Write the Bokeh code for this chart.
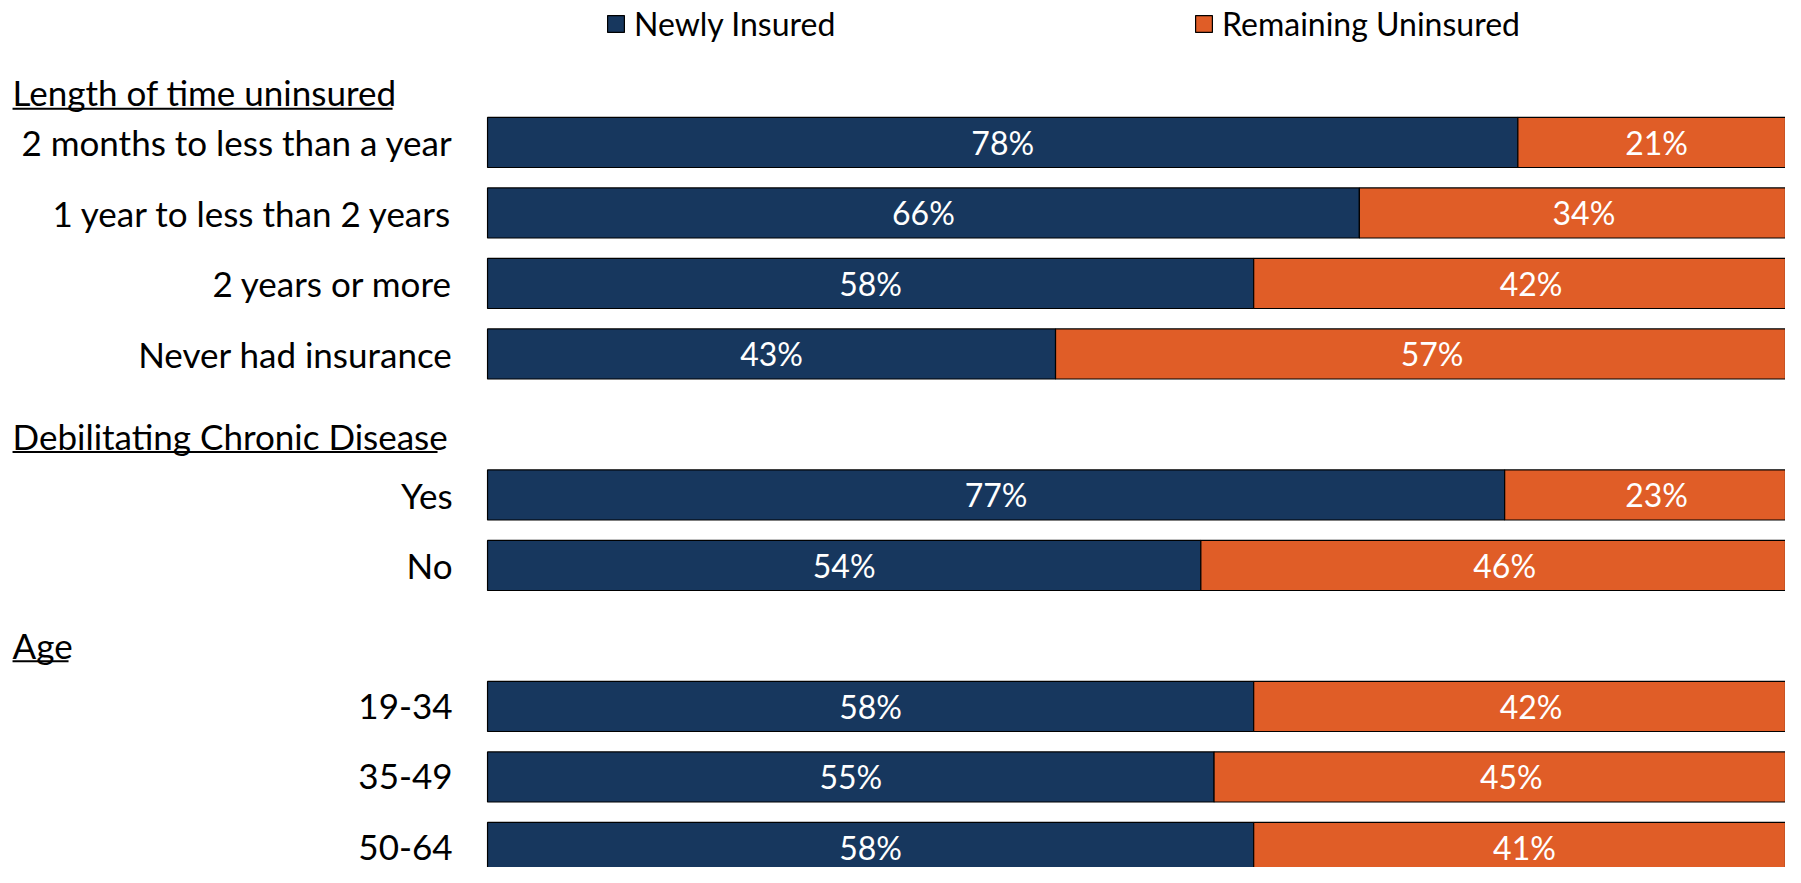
from bokeh.plotting import figure
from bokeh.models import Range1d, ColumnDataSource, Legend, LegendItem
from bokeh.core.properties import value
from bokeh.embed import file_html
from bokeh.resources import INLINE

# ---- data ----
categories = ["2 months to less than a year", "1 year to less than 2 years",
              "2 years or more", "Never had insurance",
              "Yes", "No",
              "19-34", "35-49", "50-64"]
row_pos = [0, 1, 2, 3, 5, 6, 8, 9, 10]
newly_insured = [78, 66, 58, 43, 77, 54, 58, 55, 58]
remaining_uninsured = [21, 34, 42, 57, 23, 46, 42, 45, 41]
headers = ["Length of time uninsured", "Debilitating Chronic Disease", "Age"]
header_pos = [-0.71, 4.16, 7.13]
series_names = ["Newly Insured", "Remaining Uninsured"]

NAVY = "#17375E"
ORANGE = "#E05D27"
FONT = "Lato"

W, H = 1785, 867
X0, X1 = -36.87, 98.26
p = figure(width=W, height=H, output_backend="svg", toolbar_location=None,
           x_range=Range1d(X0, X1), y_range=Range1d(10.284, -2.014),
           min_border=0, outline_line_color=None)
p.axis.visible = False
p.grid.visible = False
p.background_fill_color = "white"
p.border_fill_color = "white"

src = ColumnDataSource(dict(
    y=row_pos, cat=categories,
    n=newly_insured, r=remaining_uninsured,
    nr=[a + b for a, b in zip(newly_insured, remaining_uninsured)],
    nmid=[a / 2 for a in newly_insured],
    rmid=[a + b / 2 for a, b in zip(newly_insured, remaining_uninsured)],
    nlab=[f"{v}%" for v in newly_insured],
    rlab=[f"{v}%" for v in remaining_uninsured],
    zero=[0] * len(row_pos),
))

r1 = p.hbar(y="y", left="zero", right="n", height=0.71, source=src,
            fill_color=NAVY, line_color="black", line_width=1.2)
r2 = p.hbar(y="y", left="n", right="nr", height=0.71, source=src,
            fill_color=ORANGE, line_color="black", line_width=1.2)

p.text(x="nmid", y="y", text="nlab", source=src, text_color="white",
       text_font=value(FONT), text_font_size="32px",
       text_align="center", text_baseline="middle")
p.text(x="rmid", y="y", text="rlab", source=src, text_color="white",
       text_font=value(FONT), text_font_size="32px",
       text_align="center", text_baseline="middle")

# category labels, right aligned left of bars
p.text(x="zero", y="y", text="cat", source=src, text_color="black",
       text_font=value(FONT), text_font_size="35px", x_offset=-35,
       text_align="right", text_baseline="middle")

# section headers (underlined)
hsrc = ColumnDataSource(dict(y=header_pos, t=headers, zero=[0] * 3))
p.text(x="zero", y="y", text="t", source=hsrc, text_color="black",
       text_font=value(FONT), text_font_size="35px", x_offset=-475,
       text_align="left", text_baseline="middle")
k = W / (X1 - X0)  # px per data unit
underline_px = [380, 425, 56]
ux0 = -475 / k
p.segment(x0=[ux0] * 3, x1=[ux0 + w / k for w in underline_px],
          y0=[h + 0.23 for h in header_pos], y1=[h + 0.23 for h in header_pos],
          line_color="black", line_width=2)

# legends
for rend, name, lx in [(r1, series_names[0], 605), (r2, series_names[1], 1193)]:
    lg = Legend(items=[LegendItem(label=name, renderers=[rend])],
                location=(lx, 824), orientation="horizontal",
                glyph_width=21, glyph_height=21, label_standoff=8,
                padding=0, margin=0, border_line_color=None,
                background_fill_alpha=0,
                label_text_font=FONT, label_text_font_size="32px",
                label_text_color="black")
    p.add_layout(lg, "center")

open("out.html", "w").write(file_html(p, INLINE))
